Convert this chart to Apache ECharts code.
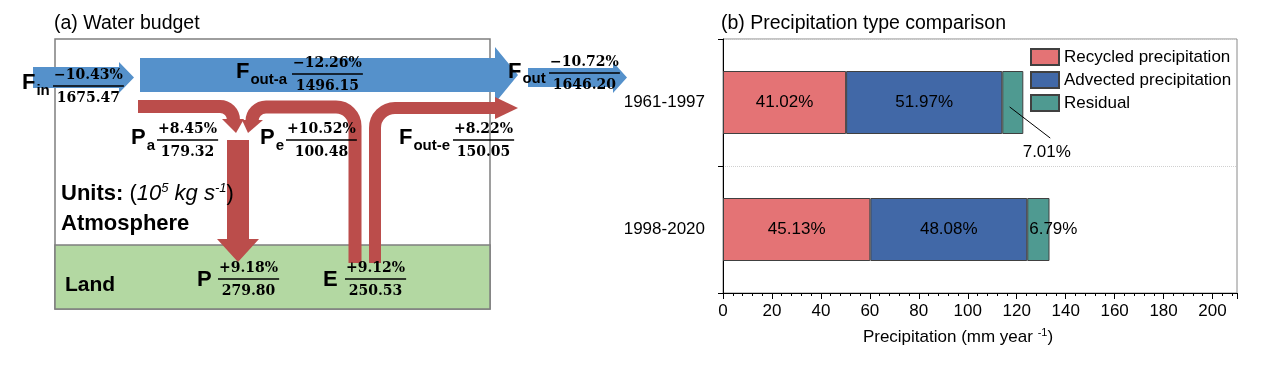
<!DOCTYPE html>
<html><head><meta charset="utf-8">
<script src="https://cdn.jsdelivr.net/npm/echarts@6/dist/echarts.min.js"></script>
<style>html,body{margin:0;padding:0;background:#fff}#c{width:1271px;height:378px}</style>
</head><body><div id="c"></div>
<script>
// ---------- Panel (b) data ----------
const categories = ['1998-2020', '1961-1997'];
const recycledValues = [60.2, 50.3];
const advectedValues = [64.1, 63.8];
const residualValues = [9.1, 8.6];
const recycledShare = ['45.13%', '41.02%'];
const advectedShare = ['48.08%', '51.97%'];
const residualShare = ['6.79%', '7.01%'];
const seriesNames = ['Recycled precipitation', 'Advected precipitation', 'Residual'];
const xMin = 0, xMax = 210, xInterval = 20;

// ---------- Panel (a) data ----------
const fluxSymbols = ['F', 'F', 'F', 'P', 'P', 'F', 'P', 'E'];
const fluxSubscripts = ['in', 'out-a', 'out', 'a', 'e', 'out-e', '', ''];
const fluxChanges = ['\u221210.43%', '\u221212.26%', '\u221210.72%', '+8.45%', '+10.52%', '+8.22%', '+9.18%', '+9.12%'];
const fluxValues = [1675.47, 1496.15, 1646.20, 179.32, 100.48, 150.05, 279.80, 250.53];

// label placement (layout only)
const fluxLayout = [
  {lx: 22, ly: 83, sy: 91, fx: 53, fy: 86},
  {lx: 236, ly: 72, sy: 80, fx: 292, fy: 74},
  {lx: 508, ly: 72, sy: 79, fx: 549, fy: 73},
  {lx: 131, ly: 138, sy: 146, fx: 157, fy: 140},
  {lx: 260, ly: 138, sy: 146, fx: 286, fy: 140},
  {lx: 399, ly: 138, sy: 146, fx: 453, fy: 140},
  {lx: 197, ly: 280, sy: 280, fx: 218, fy: 279},
  {lx: 323, ly: 280, sy: 280, fx: 345, fy: 279}
];

const SANS = '"Liberation Sans", Arial, sans-serif';
const SERIF = '"DejaVu Serif", serif';
const BLUE = '#5591cb', RED = '#bb4d4b', GREEN = '#b3d8a2', FRAME = '#7f7f7f';

const mctx = document.createElement('canvas').getContext('2d');
function tw(text, font) { mctx.font = font; return mctx.measureText(text).width; }

const g = [];
// frame and land
g.push({type: 'rect', shape: {x: 55, y: 39, width: 435, height: 270}, style: {fill: '#fff', stroke: FRAME, lineWidth: 1.5}, z: 1});
g.push({type: 'rect', shape: {x: 55, y: 245, width: 435, height: 64}, style: {fill: GREEN, stroke: FRAME, lineWidth: 1.5}, z: 1});
// blue arrows
g.push({type: 'polygon', shape: {points: [[33, 67], [119, 67], [119, 62], [134, 77.5], [119, 93], [119, 88], [33, 88]]}, style: {fill: BLUE}, z: 2});
g.push({type: 'polygon', shape: {points: [[140, 58], [495, 58], [495, 47], [518, 75], [495, 103], [495, 92], [140, 92]]}, style: {fill: BLUE}, z: 2});
g.push({type: 'polygon', shape: {points: [[528, 68], [613, 68], [613, 62], [627, 77.5], [613, 93], [613, 87], [528, 87]]}, style: {fill: BLUE}, z: 2});
// red bands
const band = {stroke: RED, lineWidth: 13, lineCap: 'butt', fill: null};
// Pa
g.push({type: 'line', shape: {x1: 138, y1: 106.5, x2: 220, y2: 106.5}, style: band, z: 2});
g.push({type: 'arc', shape: {cx: 220, cy: 120, r: 13.5, startAngle: -Math.PI / 2, endAngle: 0, clockwise: true}, style: band, z: 2});
g.push({type: 'polygon', shape: {points: [[222, 119], [244, 119], [236, 133]]}, style: {fill: RED}, z: 2});
// Pe
g.push({type: 'line', shape: {x1: 355, y1: 263, x2: 355, y2: 126}, style: band, z: 2});
g.push({type: 'arc', shape: {cx: 336, cy: 126, r: 19, startAngle: -Math.PI / 2, endAngle: 0, clockwise: true}, style: band, z: 2});
g.push({type: 'line', shape: {x1: 336, y1: 107, x2: 266, y2: 107}, style: band, z: 2});
g.push({type: 'arc', shape: {cx: 266, cy: 121, r: 14, startAngle: Math.PI, endAngle: Math.PI * 1.5, clockwise: true}, style: band, z: 2});
g.push({type: 'polygon', shape: {points: [[242, 120], [263, 120], [248, 133]]}, style: {fill: RED}, z: 2});
// Fout-e
const band2 = {stroke: RED, lineWidth: 12, lineCap: 'butt', fill: null};
g.push({type: 'line', shape: {x1: 375, y1: 263, x2: 375, y2: 128}, style: band2, z: 2});
g.push({type: 'arc', shape: {cx: 395, cy: 128, r: 20, startAngle: Math.PI, endAngle: Math.PI * 1.5, clockwise: true}, style: band2, z: 2});
g.push({type: 'line', shape: {x1: 395, y1: 108, x2: 496, y2: 108}, style: band2, z: 2});
g.push({type: 'polygon', shape: {points: [[495, 97], [518, 108], [495, 119]]}, style: {fill: RED}, z: 2});
// P
g.push({type: 'polygon', shape: {points: [[227, 140], [249, 140], [249, 239], [259, 239], [238, 262], [217, 239], [227, 239]]}, style: {fill: RED}, z: 2});

// texts
function txt(x, y, text, size, weight, family, align, extra) {
  return Object.assign({type: 'text', x: x, y: y, z: 5,
    style: {text: text, fill: '#000', fontSize: size, fontWeight: weight || 'normal', fontFamily: family || SANS,
      align: align || 'left', textAlign: align || 'left', verticalAlign: 'middle', textVerticalAlign: 'middle'}}, extra || {});
}
const letterFont = 'bold 22px ' + SANS;
const fracFont = 'bold 14px ' + SERIF;
fluxSymbols.forEach((sym, i) => {
  const L = fluxLayout[i];
  g.push(txt(L.lx, L.ly, sym, 22, 'bold'));
  if (fluxSubscripts[i]) {
    g.push(txt(L.lx + tw(sym, letterFont) + 1, L.sy, fluxSubscripts[i], 15, 'bold'));
  }
  const num = fluxChanges[i], den = fluxValues[i].toFixed(2);
  const w = Math.max(tw(num, fracFont), tw(den, fracFont)) + 2;
  const cx = L.fx + w / 2;
  g.push(txt(cx, L.fy - 11, num, 14, 'bold', SERIF, 'center'));
  g.push(txt(cx, L.fy + 12, den, 14, 'bold', SERIF, 'center'));
  g.push({type: 'line', shape: {x1: L.fx, y1: L.fy, x2: L.fx + w, y2: L.fy}, style: {stroke: '#000', lineWidth: 1.3}, z: 5});
});
g.push({type: 'text', x: 61, y: 194, z: 5, style: {
  text: '{b|Units: }{n|(}{i|10}{s|5}{i| kg s}{s|-1}{n|)}', fill: '#000', verticalAlign: 'middle', textVerticalAlign: 'middle',
  rich: {
    b: {fontSize: 22, fontWeight: 'bold', fontFamily: SANS, lineHeight: 24},
    n: {fontSize: 22, fontFamily: SANS, lineHeight: 24},
    i: {fontSize: 22, fontStyle: 'italic', fontFamily: SANS, lineHeight: 24},
    s: {fontSize: 13, fontStyle: 'italic', fontFamily: SANS, lineHeight: 13, verticalAlign: 'top'}
  }}});
g.push(txt(61, 224, 'Atmosphere', 22, 'bold'));
g.push(txt(65, 285, 'Land', 21, 'bold'));

// leader line for the small residual label of 1961-1997 (in data space: x value, category index)
const k = 1;
const leadStartX = recycledValues[k] + advectedValues[k] + residualValues[k] * 0.35;
const leadEndX = recycledValues[k] + advectedValues[k] + residualValues[k] + 11;
const leaderLine = [[leadStartX, k - 0.035], [leadEndX, k - 0.28]];

const labelBase = {show: true, fontSize: 17, color: '#000', fontFamily: SANS};
const option = {
  animation: false,
  textStyle: {fontFamily: SANS},
  title: [
    {text: '(a) Water budget', left: 54, top: 14, padding: 0, textStyle: {fontSize: 19.5, fontWeight: 'normal', color: '#000', fontFamily: SANS}},
    {text: '(b) Precipitation type comparison', left: 721, top: 14, padding: 0, textStyle: {fontSize: 19.5, fontWeight: 'normal', color: '#000', fontFamily: SANS}}
  ],
  legend: {
    data: seriesNames, orient: 'vertical', left: 1030, top: 48, itemGap: 5, itemWidth: 28, itemHeight: 16,
    icon: 'rect', padding: 0, textStyle: {fontSize: 17, color: '#000', fontFamily: SANS}
  },
  grid: {left: 723, right: 34, top: 39, bottom: 85, show: true, borderColor: '#8a8a8a', borderWidth: 1, backgroundColor: 'transparent'},
  xAxis: {
    type: 'value', min: xMin, max: xMax, interval: xInterval,
    name: 'Precipitation (mm year {s|-1})', nameLocation: 'middle', nameGap: 34,
    nameTextStyle: {fontSize: 17, color: '#000', fontFamily: SANS, padding: [0, 44, 0, 0], lineHeight: 20,
      rich: {s: {fontSize: 11, verticalAlign: 'top', lineHeight: 11, fontFamily: SANS}}},
    axisLine: {show: true, onZero: false, lineStyle: {color: '#000', width: 1}},
    axisTick: {show: true, length: 6, lineStyle: {color: '#000'}},
    minorTick: {show: true, splitNumber: 5, length: 3, lineStyle: {color: '#000'}},
    axisLabel: {fontSize: 17, color: '#000', margin: 10, showMaxLabel: false, fontFamily: SANS},
    splitLine: {show: false}
  },
  yAxis: [{
    type: 'category', data: categories,
    axisLine: {show: true, lineStyle: {color: '#000', width: 1}},
    axisTick: {show: true, length: 5, lineStyle: {color: '#000'}},
    axisLabel: {fontSize: 17, color: '#000', margin: 18, fontFamily: SANS},
    splitLine: {show: true, lineStyle: {color: '#d0d0d0', type: 'dotted', width: 1}}
  }, {
    type: 'value', min: -0.5, max: categories.length - 0.5, show: false, splitLine: {show: false}
  }],
  series: [
    {name: seriesNames[0], type: 'bar', stack: 'p', barWidth: 63, data: recycledValues,
      itemStyle: {color: '#e47375', borderColor: '#404040', borderWidth: 1},
      label: Object.assign({}, labelBase, {position: 'inside', formatter: p => recycledShare[p.dataIndex]})},
    {name: seriesNames[1], type: 'bar', stack: 'p', barWidth: 63, data: advectedValues,
      itemStyle: {color: '#4168a7', borderColor: '#404040', borderWidth: 1},
      label: Object.assign({}, labelBase, {position: 'inside', formatter: p => advectedShare[p.dataIndex]})},
    {name: seriesNames[2], type: 'bar', stack: 'p', barWidth: 63,
      data: residualValues.map((v, i) => i === 1
        ? {value: v, label: {position: 'inside'}}
        : {value: v, label: {position: 'insideLeft', distance: 2}}),
      itemStyle: {color: '#4f9a91', borderColor: '#404040', borderWidth: 1},
      label: Object.assign({}, labelBase, {formatter: p => residualShare[p.dataIndex]}),
      labelLayout: p => p.dataIndex === 1 ? {dx: 34, dy: 50} : {}},
    {name: 'leader', type: 'line', yAxisIndex: 1, data: leaderLine, symbol: 'none', silent: true,
      lineStyle: {color: '#000', width: 1}, z: 5}
  ],
  graphic: {elements: g}
};
const chart = echarts.init(document.getElementById('c'), null, {renderer: 'canvas'});
chart.setOption(option);
</script></body></html>
